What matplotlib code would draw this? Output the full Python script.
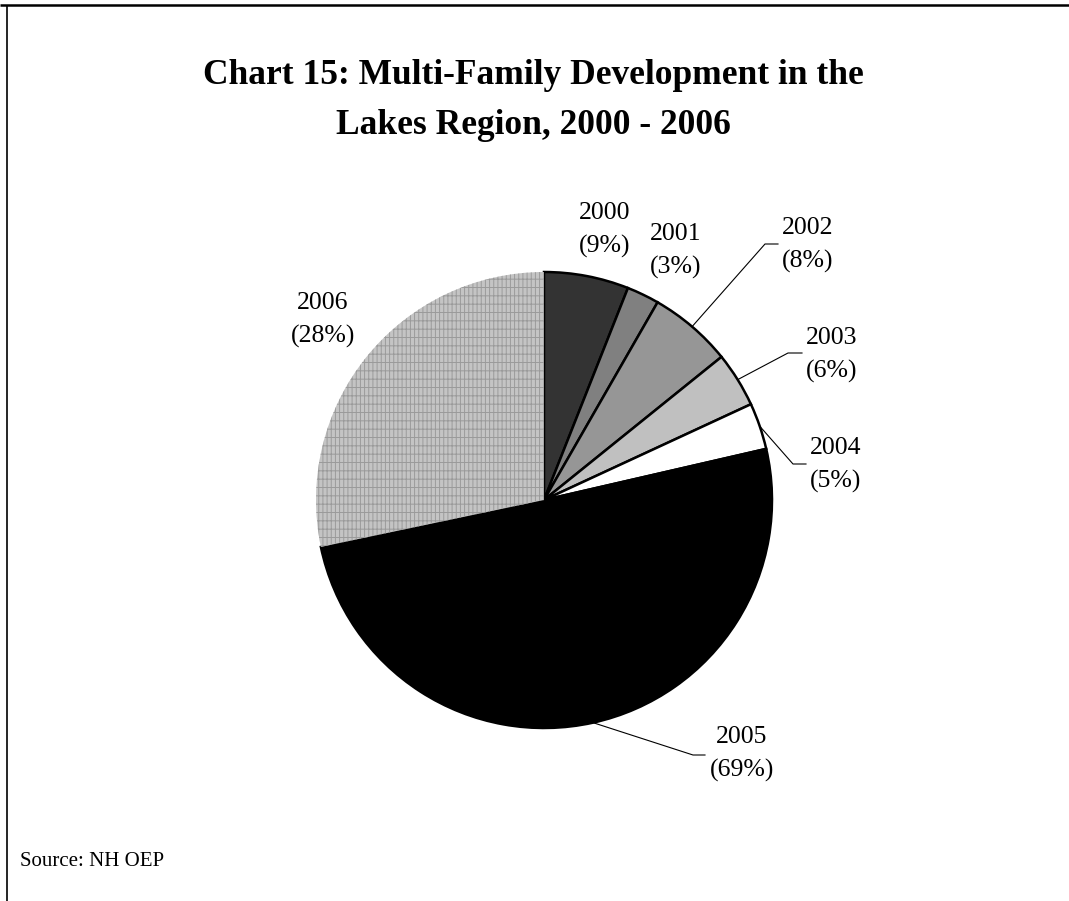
import numpy as np
import matplotlib
matplotlib.use("Agg")
import matplotlib.pyplot as plt

# Dados do grafico (fatia medida na imagem, rotulos tal como aparecem)
anos = ["2000", "2001", "2002", "2003", "2004", "2005", "2006"]
partes = [6.0, 2.3, 5.9, 3.9, 3.3, 50.3, 28.3]
rotulos_pct = ["9%", "3%", "8%", "6%", "5%", "69%", "28%"]
cores = ["#333333", "#808080", "#969696", "#c0c0c0", "#ffffff", "#000000", "#c4c4c4"]

W, H = 1069, 901
plt.rcParams["font.family"] = ["Liberation Serif", "DejaVu Serif"]
plt.rcParams["hatch.linewidth"] = 0.7

fig = plt.figure(figsize=(W / 100, H / 100), dpi=100)
ax = fig.add_axes([0, 0, 1, 1])

# moldura (so topo e lado esquerdo ficam visiveis)
ax.plot([0, W], [H - 4.5, H - 4.5], color="black", lw=1.8, solid_capstyle="butt")
ax.plot([6.5, 6.5], [0, H - 4.5], color="black", lw=1.2, solid_capstyle="butt")

cx, cy, r = 544, H - 500, 228
wedges, _ = ax.pie(partes, colors=cores, startangle=90, counterclock=False,
                   center=(cx, cy), radius=r, frame=True,
                   wedgeprops=dict(edgecolor="black", linewidth=1.8))
ax.set_xlim(0, W)
ax.set_ylim(0, H)
ax.set_aspect("equal")
ax.axis("off")

# fatia 2006 com textura em grelha e sem contorno preto
w6 = wedges[6]
w6.set_edgecolor("#9a9a9a")
w6.set_linewidth(0)
w6.set_hatch("||||--")

# posicoes dos rotulos (centro do bloco de texto, pixeis a partir do topo)
pos_rotulos = [(605, 230), (676, 251), (808, 245), (832, 355), (836, 465), (742, 754), (323, 320)]
# cotovelo da linha de chamada e fim horizontal (None = sem linha)
cotovelos = [None, None, (765, 244), (788, 353), (793, 464), (693, 755), None]
fins = [None, None, (778, 244), (802, 353), (806, 464), (705, 755), None]

for i, w in enumerate(wedges):
    tx, ty = pos_rotulos[i]
    ax.text(tx, H - ty, f"{anos[i]}\n({rotulos_pct[i]})", ha="center", va="center",
            fontsize=18.5, linespacing=1.6)
    if cotovelos[i] is not None:
        ang = np.deg2rad((w.theta1 + w.theta2) / 2)
        x0, y0 = cx + r * np.cos(ang), cy + r * np.sin(ang)
        ex, ey = cotovelos[i]
        fx, fy = fins[i]
        ax.plot([x0, ex, fx], [y0, H - ey, H - fy], color="black", lw=0.8)

ax.text(533, H - 100, "Chart 15: Multi-Family Development in the\nLakes Region, 2000 - 2006",
        ha="center", va="center", fontsize=25.5, fontweight="bold", linespacing=1.68)
ax.text(20, H - 862, "Source: NH OEP", ha="left", va="center", fontsize=15)

fig.savefig("out.png", dpi=100)
